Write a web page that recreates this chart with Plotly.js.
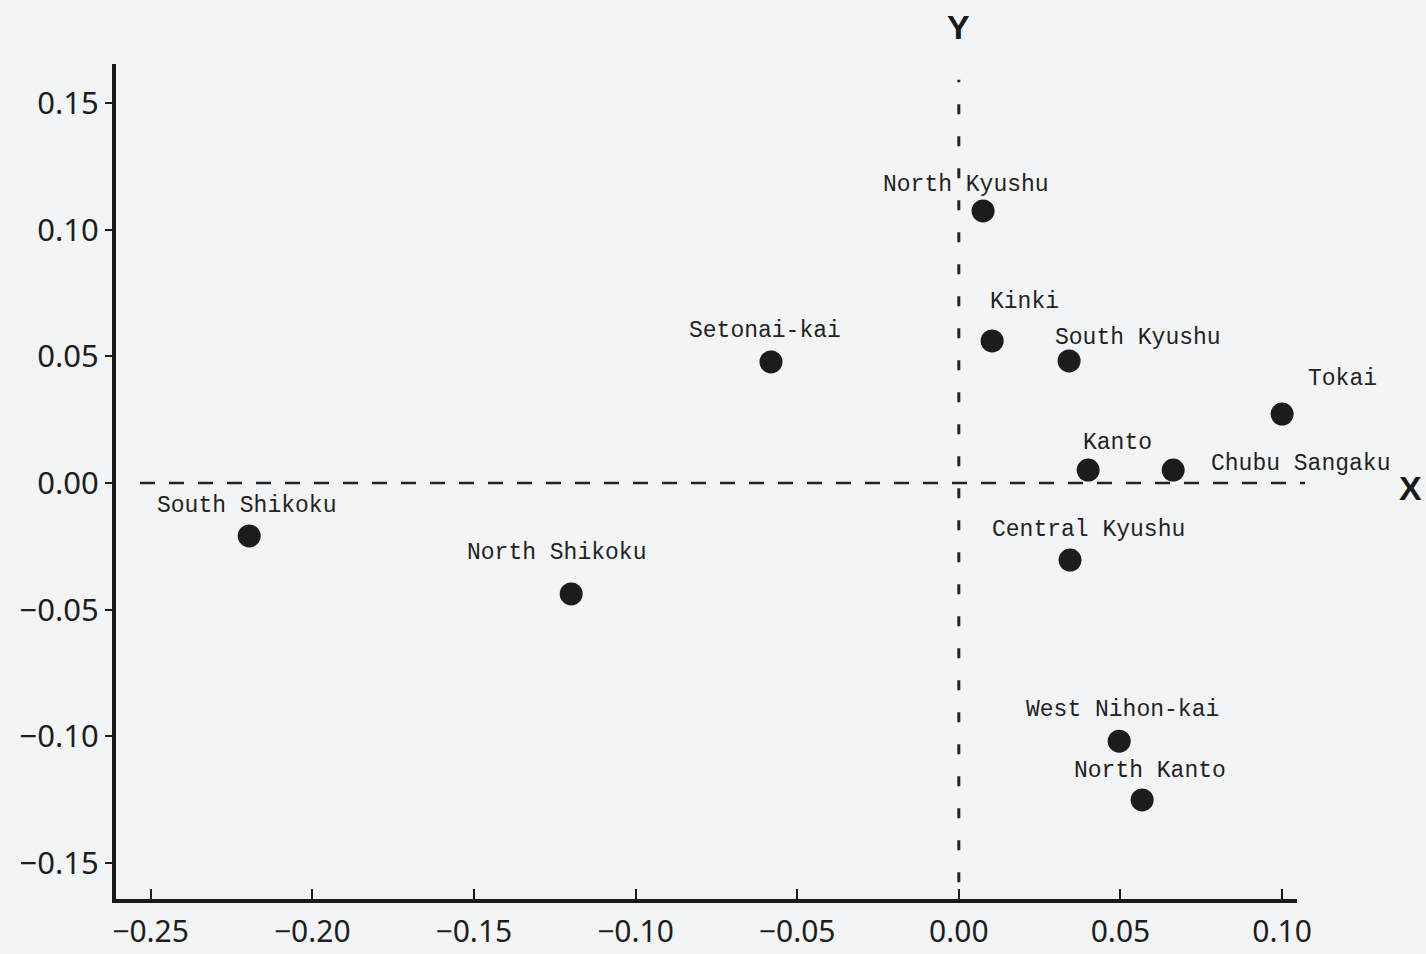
<!DOCTYPE html>
<html>
<head>
<meta charset="utf-8">
<script src="https://cdn.plot.ly/plotly-3.0.1.min.js"></script>
<style>html,body{margin:0;padding:0;background:#f3f4f6;}#chart{width:1426px;height:954px;}</style>
</head>
<body>
<div id="chart"></div>
<script>
// ---- data ----
const regions = ["North Kyushu","Kinki","South Kyushu","Setonai-kai","Tokai","Kanto","Chubu Sangaku","South Shikoku","North Shikoku","Central Kyushu","West Nihon-kai","North Kanto"];
const xValues = [0.0075, 0.0103, 0.0341, -0.0581, 0.1000, 0.0400, 0.0663, -0.2195, -0.1199, 0.0344, 0.0496, 0.0567];
const yValues = [0.1074, 0.0561, 0.0482, 0.0478, 0.0272, 0.0051, 0.0051, -0.0209, -0.0438, -0.0304, -0.1019, -0.1251];
const xTicks = [-0.25, -0.20, -0.15, -0.10, -0.05, 0.00, 0.05, 0.10];
const yTicks = [-0.15, -0.10, -0.05, 0.00, 0.05, 0.10, 0.15];

// ---- label placement (pixel offsets from each dot) ----
const labelDx = [-17, 32, 69, -6, 60, 29, 127, -3, -15, 18, 3, 8];
const labelDy = [26, 39, 23, 31, 35, 27, 6, 30, 41, 30, 31, 29];

const ink = '#1a1a1a';
const labelFont = {family: 'Liberation Mono, DejaVu Sans Mono, monospace', size: 23, color: '#222'};

const annotations = regions.map((r, i) => ({
  x: xValues[i], y: yValues[i], xref: 'x', yref: 'y',
  text: r, showarrow: false, xanchor: 'center', yanchor: 'middle',
  xshift: labelDx[i], yshift: labelDy[i], font: labelFont
}));
annotations.push({
  x: 1.0957, xref: 'paper', y: 0, yref: 'y', text: 'X', showarrow: false,
  xanchor: 'center', yanchor: 'middle', yshift: -5,
  font: {family: 'Liberation Sans, Arial, sans-serif', size: 34, color: ink, weight: 'bold'}
});
annotations.push({
  x: 0, xref: 'x', y: 1.0443, yref: 'paper', text: 'Y', showarrow: false,
  xanchor: 'center', yanchor: 'middle',
  font: {family: 'Liberation Sans, Arial, sans-serif', size: 34, color: ink, weight: 'bold'}
});

const trace = {
  type: 'scatter', mode: 'markers', x: xValues, y: yValues, text: regions,
  marker: {size: 23, color: '#1c1c1e'}, cliponaxis: false, hoverinfo: 'text'
};

const layout = {
  width: 1426, height: 954,
  margin: {l: 116, r: 129, t: 64, b: 55},
  paper_bgcolor: '#f3f4f6', plot_bgcolor: 'rgba(0,0,0,0)',
  showlegend: false,
  xaxis: {
    range: [-0.2607, 0.1046], tickvals: xTicks, tickformat: '.2f',
    showgrid: false, zeroline: false,
    showline: true, linewidth: 4, linecolor: ink,
    ticks: 'inside', ticklen: 10, tickwidth: 2, tickcolor: ink,
    ticklabelstandoff: 3,
    tickfont: {family: 'Noto Sans, DejaVu Sans, sans-serif', size: 30, color: '#1e1e1e'}
  },
  yaxis: {
    range: [-0.1642, 0.1654], tickvals: yTicks, tickformat: '.2f',
    showgrid: false, zeroline: false,
    showline: true, linewidth: 4, linecolor: ink,
    ticks: 'outside', ticklen: 7, tickwidth: 2, tickcolor: ink,
    tickfont: {family: 'Noto Sans, DejaVu Sans, sans-serif', size: 31, color: '#1e1e1e'}
  },
  shapes: [
    {type: 'line', xref: 'paper', yref: 'y', x0: 0.0203, x1: 1.0068, y0: 0, y1: 0,
     line: {color: '#222', width: 2.5, dash: '15px,14px'}},
    {type: 'line', xref: 'x', yref: 'paper', x0: 0, x1: 0, y0: 0.02, y1: 0.981,
     line: {color: '#222', width: 3, dash: '10px,22px'}}
  ],
  annotations: annotations
};

Plotly.newPlot('chart', [trace], layout, {displayModeBar: false, staticPlot: true});
</script>
</body>
</html>
